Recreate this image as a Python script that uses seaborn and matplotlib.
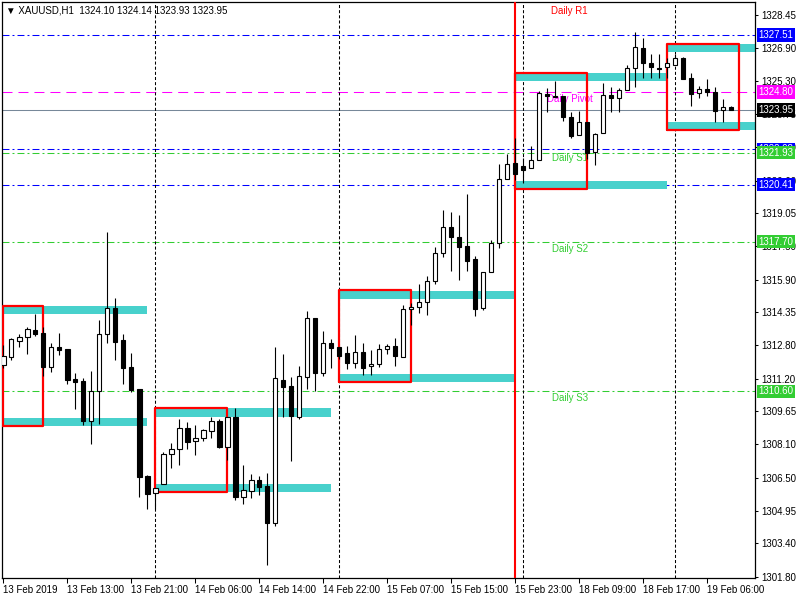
import numpy as np
import pandas as pd
import seaborn as sns
import matplotlib
matplotlib.use('Agg')
import matplotlib.pyplot as plt

# XAUUSD H1 candles (bar 0 = 13 Feb 2019)
opens = [1311.84, 1312.25, 1313.00, 1313.19, 1313.51, 1313.37, 1311.77, 1312.71, 1312.61, 1311.19,
         1311.09, 1309.20, 1310.60, 1313.31, 1314.54, 1313.02, 1311.76, 1310.71, 1306.59, 1305.80,
         1306.19, 1307.62, 1307.85, 1308.85, 1308.23, 1308.38, 1308.74, 1309.20, 1307.98, 1309.37,
         1305.61, 1305.89, 1306.38, 1306.11, 1304.37, 1311.14, 1310.86, 1309.40, 1311.30, 1314.07,
         1311.46, 1312.89, 1312.69, 1312.41, 1311.94, 1312.45, 1311.79, 1311.89, 1312.60, 1312.74,
         1312.22, 1314.49, 1314.59, 1314.82, 1315.82, 1317.15, 1318.38, 1317.91, 1317.49, 1316.86,
         1314.54, 1316.25, 1317.62, 1320.66, 1321.44, 1321.29, 1321.18, 1321.56, 1324.72, 1324.62,
         1324.61, 1323.60, 1322.74, 1323.36, 1321.95, 1322.84, 1324.66, 1324.50, 1324.88, 1325.92,
         1326.88, 1326.16, 1325.95, 1325.97, 1326.08, 1326.40, 1325.45, 1324.74, 1324.93, 1324.78,
         1323.93, 1324.10]
highs = [1312.80, 1313.12, 1313.31, 1313.65, 1314.27, 1313.64, 1312.89, 1313.37, 1312.61, 1311.46,
         1311.23, 1311.57, 1313.99, 1318.14, 1315.01, 1313.31, 1312.41, 1310.71, 1306.62, 1306.02,
         1307.71, 1308.15, 1309.29, 1309.15, 1309.01, 1308.83, 1309.37, 1309.29, 1309.37, 1309.80,
         1307.11, 1306.68, 1306.59, 1306.72, 1312.71, 1312.37, 1311.28, 1311.79, 1314.41, 1314.07,
         1313.48, 1313.07, 1312.72, 1312.75, 1313.27, 1312.88, 1312.56, 1312.85, 1312.85, 1313.13,
         1314.68, 1314.78, 1315.69, 1316.07, 1317.43, 1319.20, 1319.11, 1318.96, 1319.96, 1317.01,
         1316.25, 1317.78, 1321.37, 1321.84, 1322.60, 1321.65, 1322.24, 1324.85, 1324.97, 1325.32,
         1324.61, 1323.83, 1323.90, 1323.36, 1322.87, 1325.21, 1325.03, 1324.97, 1326.08, 1327.66,
         1327.37, 1326.60, 1326.60, 1326.40, 1326.59, 1326.47, 1325.68, 1325.10, 1325.41, 1325.05,
         1324.47, 1324.14]
lows = [1311.69, 1312.09, 1312.72, 1312.37, 1313.24, 1311.33, 1311.52, 1312.33, 1310.96, 1309.78,
        1309.01, 1308.11, 1309.07, 1312.91, 1312.09, 1310.96, 1310.59, 1305.61, 1305.04, 1305.04,
        1306.19, 1306.98, 1307.11, 1307.88, 1307.58, 1308.26, 1308.40, 1307.92, 1307.35, 1305.45,
        1305.27, 1305.56, 1305.70, 1302.37, 1304.22, 1309.40, 1307.30, 1309.31, 1310.71, 1310.62,
        1311.34, 1311.70, 1312.14, 1311.66, 1311.72, 1311.39, 1311.39, 1311.77, 1312.36, 1311.82,
        1312.22, 1313.75, 1314.33, 1314.24, 1315.68, 1316.99, 1316.32, 1315.90, 1316.32, 1314.19,
        1314.46, 1316.25, 1317.41, 1320.66, 1320.62, 1320.47, 1321.18, 1321.56, 1323.83, 1324.55,
        1323.44, 1322.62, 1322.74, 1321.60, 1321.34, 1322.84, 1323.86, 1323.83, 1324.88, 1325.05,
        1325.45, 1325.45, 1325.45, 1325.46, 1326.08, 1325.40, 1324.15, 1324.53, 1324.62, 1323.39,
        1323.36, 1323.93]
closes = [1312.28, 1313.08, 1313.18, 1313.54, 1313.32, 1311.77, 1312.69, 1312.56, 1311.15, 1311.05,
          1309.20, 1310.60, 1313.31, 1314.54, 1312.96, 1311.72, 1310.67, 1306.55, 1305.73, 1306.02,
          1307.62, 1307.87, 1308.85, 1308.21, 1308.38, 1308.77, 1309.20, 1307.96, 1309.37, 1305.61,
          1305.91, 1306.38, 1306.08, 1304.37, 1311.22, 1310.82, 1309.45, 1311.32, 1314.07, 1311.46,
          1312.88, 1312.67, 1312.29, 1311.94, 1312.45, 1311.72, 1311.90, 1312.60, 1312.74, 1312.29,
          1314.49, 1314.59, 1314.82, 1315.82, 1317.16, 1318.38, 1317.91, 1317.43, 1316.80, 1314.52,
          1316.25, 1317.62, 1320.66, 1321.37, 1320.92, 1321.11, 1321.56, 1324.74, 1324.59, 1324.55,
          1323.60, 1322.72, 1323.36, 1321.92, 1322.82, 1324.66, 1324.50, 1324.88, 1325.92, 1326.92,
          1326.19, 1325.97, 1325.90, 1326.16, 1326.40, 1325.40, 1324.69, 1324.93, 1324.81, 1323.91,
          1324.09, 1323.95]

# time axis labels (every 8 bars)
time_ticks = [0, 8, 16, 24, 32, 40, 48, 56, 64, 72, 80, 88]
time_labels = ['13 Feb 2019', '13 Feb 13:00', '13 Feb 21:00', '14 Feb 06:00', '14 Feb 14:00',
               '14 Feb 22:00', '15 Feb 07:00', '15 Feb 15:00', '15 Feb 23:00', '18 Feb 09:00',
               '18 Feb 17:00', '19 Feb 06:00']
price_ticks = [1328.45, 1326.90, 1325.30, 1323.75, 1322.20, 1320.60, 1319.05, 1317.50, 1315.90,
               1314.35, 1312.80, 1311.20, 1309.65, 1308.10, 1306.50, 1304.95, 1303.40, 1301.80]

# day separators and pivot start
day_bars = [19, 42, 65, 84]
pivot_bar = 64

# cyan zones
zone_start = [0, 0, 19, 19, 42, 42, 64, 64, 83, 83]
zone_end = [18, 18, 41, 41, 64, 64, 83, 83, 95, 95]
zone_top = [1314.65, 1309.34, 1309.82, 1306.21, 1315.36, 1311.43, 1325.70, 1320.58, 1327.07, 1323.38]
zone_bot = [1314.27, 1308.96, 1309.39, 1305.83, 1314.98, 1311.05, 1325.32, 1320.20, 1326.70, 1323.00]

# red session boxes
box_start = [0, 19, 42, 64, 83]
box_end = [5, 28, 51, 73, 92]
box_high = [1314.65, 1309.82, 1315.40, 1325.70, 1327.07]
box_low = [1308.96, 1305.83, 1311.05, 1320.20, 1323.00]

# horizontal levels
level_price = [1327.51, 1324.80, 1323.95, 1322.08, 1321.93, 1320.41, 1317.70, 1310.60]
level_color = ['#0000FF', '#FF00FF', '#778899', '#0000FF', '#32CD32', '#0000FF', '#32CD32', '#32CD32']
level_box = ['#0000FF', '#FF00FF', '#000000', '#0000FF', '#32CD32', '#0000FF', '#32CD32', '#32CD32']
level_kind = ['dashdot', 'dash', 'solid', 'dashdot', 'dashdot', 'dashdot', 'dashdot', 'dashdot']

pivot_names = ['Daily R1', 'Daily Pivot', 'Daily S1', 'Daily S2', 'Daily S3']
pivot_text_y = [1328.66, 1324.47, 1321.67, 1317.35, 1310.29]
pivot_colors = ['#FF0000', '#FF00FF', '#32CD32', '#32CD32', '#32CD32']

df = pd.DataFrame({'open': opens, 'high': highs, 'low': lows, 'close': closes})
df['bar'] = np.arange(len(df))

sns.set_style('white')
plt.rcParams['font.family'] = ['Liberation Sans', 'DejaVu Sans']
plt.rcParams['lines.scale_dashes'] = False

fig = plt.figure(figsize=(8, 6), dpi=100)
ax = fig.add_axes([2 / 800, 22 / 600, 753 / 800, 576 / 600])

styles = {'dashdot': (0, (5.0, 2.2, 1.4, 2.2)), 'dash': (0, (7.2, 4.3)), 'solid': '-'}
for p, c, k in zip(level_price, level_color, level_kind):
    ax.axhline(p, color=c, lw=0.75, linestyle=styles[k], zorder=1)

for b in day_bars:
    ax.axvline(b, color='black', lw=0.75, linestyle=(0, (2.2, 1.5)), zorder=1.5)
ax.axvline(pivot_bar, color='#FF0000', lw=1.5, zorder=3)

for x0, x1, lo, hi in zip(zone_start, zone_end, zone_bot, zone_top):
    ax.fill_between([x0, x1], lo, hi, color='#48D1CC', lw=0, zorder=2)

for name, y, c in zip(pivot_names, pivot_text_y, pivot_colors):
    ax.text(70.8, y, name, color=c, fontsize=7, ha='center', va='center', zorder=2.5)

for x0, x1, lo, hi in zip(box_start, box_end, box_low, box_high):
    ax.plot([x0, x1, x1, x0, x0], [lo, lo, hi, hi, lo], color='#FF0000', lw=1.6, zorder=3)

# candles
ax.vlines(df['bar'], df['low'], df['high'], color='black', lw=0.8, zorder=5)
up = df['close'] >= df['open']
body_bottom = np.minimum(df['open'], df['close'])
body_height = np.abs(df['close'] - df['open'])
ax.bar(df['bar'], body_height, bottom=body_bottom, width=0.55,
       color=np.where(up, 'white', 'black'), edgecolor='black', linewidth=0.8, zorder=6)

ax.set_xlim(-0.1625, 93.9625)
ax.set_ylim(1301.75, 1329.07)

ax.yaxis.tick_right()
ax.set_yticks(price_ticks, labels=[f'{p:.2f}' for p in price_ticks])
ax.set_xticks(time_ticks, labels=time_labels, ha='left')
ax.tick_params(axis='y', right=True, left=False, direction='out', length=2.5, width=0.75,
               pad=2, labelsize=7, colors='black')
ax.tick_params(axis='x', bottom=True, direction='out', length=3.6, width=0.75,
               pad=1.5, labelsize=7, colors='black')
for s in ax.spines.values():
    s.set_visible(True)
    s.set_color('black')
    s.set_linewidth(0.9)

# price labels on the right scale
for p, c in zip(level_price, level_box):
    ax.annotate(f'{p:.2f}', xy=(1.0, p), xycoords=('axes fraction', 'data'),
                xytext=(2.6, 0), textcoords='offset points', ha='left', va='center',
                fontsize=7, color='white', annotation_clip=False, zorder=10,
                bbox=dict(boxstyle='square,pad=0.18', fc=c, ec='none'))

ax.text(0.005, 0.985, '\u25bc XAUUSD,H1  1324.10 1324.14 1323.93 1323.95', transform=ax.transAxes,
        fontsize=7, ha='left', va='center', color='black', zorder=11)

fig.savefig('out.png', dpi=100)
